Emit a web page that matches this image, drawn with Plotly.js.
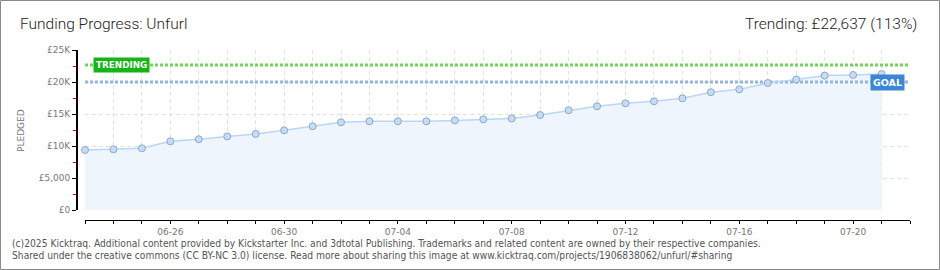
<!DOCTYPE html>
<html>
<head>
<meta charset="utf-8">
<script src="https://cdn.plot.ly/plotly-3.0.1.min.js"></script>
<style>
  html, body { margin: 0; padding: 0; background: #fff; }
  #chart { width: 940px; height: 270px; }
</style>
</head>
<body>
<div id="chart"></div>
<script>
// ---- data ----
const dates = [
  '2025-06-23','2025-06-24','2025-06-25','2025-06-26','2025-06-27','2025-06-28','2025-06-29','2025-06-30',
  '2025-07-01','2025-07-02','2025-07-03','2025-07-04','2025-07-05','2025-07-06','2025-07-07','2025-07-08',
  '2025-07-09','2025-07-10','2025-07-11','2025-07-12','2025-07-13','2025-07-14','2025-07-15','2025-07-16',
  '2025-07-17','2025-07-18','2025-07-19','2025-07-20','2025-07-21'
];
const pledged = [
  9380, 9480, 9640, 10730, 11050, 11500, 11880, 12450,
  13080, 13700, 13860, 13860, 13860, 14000, 14170, 14300,
  14840, 15580, 16200, 16670, 16980, 17450, 18400, 18850,
  19840, 20400, 21000, 21100, 21250
];
const goal = 20000;
const trending = 22637;
const xRange = ['2025-06-23', '2025-07-22'];
const yTickVals = [0, 5000, 10000, 15000, 20000, 25000];
const yTickText = ['£0', '£5,000', '£10K', '£15K', '£20K', '£25K'];
const titleText = 'Funding Progress: Unfurl';
const trendingText = 'Trending: £22,637 (113%)';
const footer1 = '(c)2025 Kicktraq. Additional content provided by Kickstarter Inc. and 3dtotal Publishing. Trademarks and related content are owned by their respective companies.';
const footer2 = 'Shared under the creative commons (CC BY-NC 3.0) license. Read more about sharing this image at www.kicktraq.com/projects/1906838062/unfurl/#sharing';

// ---- geometry (pixels) ----
const W = 940, H = 270;
const mL = 76, mR = 30, mT = 50, mB = 50;
const pw = W - mL - mR, ph = H - mT - mB;
const px = v => (v - mL) / pw;          // pixel x -> paper x
const py = v => (H - mB - v) / ph;      // pixel y -> paper y

const tickFont = { family: 'DejaVu Sans', size: 9, color: '#777' };
const titleFont = { family: 'Roboto', size: 15.5, color: '#222', weight: 300 };
const DAY = 86400000;

const traces = [
  { x: dates, y: pledged, type: 'scatter', mode: 'lines', fill: 'tozeroy',
    fillcolor: '#eef5fd', line: { width: 0, color: 'rgba(0,0,0,0)' }, hoverinfo: 'skip' },
  { x: xRange, y: [goal, goal], type: 'scatter', mode: 'lines',
    line: { color: '#93b6df', width: 3, dash: '3px,2px' }, hoverinfo: 'skip' },
  { x: xRange, y: [trending, trending], type: 'scatter', mode: 'lines',
    line: { color: '#6fd35c', width: 3, dash: '3px,2px' }, hoverinfo: 'skip' },
  { x: dates, y: pledged, type: 'scatter', mode: 'lines+markers', cliponaxis: false,
    line: { color: '#b9d7f4', width: 1.5 },
    marker: { size: 7, color: '#c4dcf6', line: { color: '#8ea8c8', width: 1 } } }
];

const layout = {
  width: W, height: H,
  margin: { l: mL, r: mR, t: mT, b: mB, pad: 0 },
  paper_bgcolor: '#fff', plot_bgcolor: '#fff',
  showlegend: false,
  title: { text: titleText, xref: 'container', yref: 'container', x: 20 / W, xanchor: 'left',
           y: 1 - 24 / H, yanchor: 'middle', font: titleFont },
  xaxis: {
    type: 'date', range: xRange, domain: [9 / pw, 1],
    anchor: 'free', position: 0,
    tick0: '2025-06-22', dtick: 4 * DAY, tickformat: '%m-%d',
    ticks: 'outside', ticklen: 3, tickcolor: '#000', tickwidth: 1,
    showline: true, linecolor: '#000', linewidth: 1,
    showgrid: true, gridcolor: '#e2e2e2', griddash: '4px,3px', gridwidth: 1,
    minor: { dtick: DAY, tick0: '2025-06-22', ticks: 'outside', ticklen: 3, tickcolor: '#000',
             showgrid: true, gridcolor: '#e2e2e2', griddash: '4px,3px' },
    tickfont: tickFont, zeroline: false, fixedrange: true
  },
  yaxis: {
    range: [0, 25000], domain: [10 / ph, 1],
    anchor: 'free', position: 0,
    tickvals: yTickVals, ticktext: yTickText,
    ticks: 'outside', ticklen: 4, tickcolor: '#000', tickwidth: 1,
    showline: true, linecolor: '#000', linewidth: 1.5,
    showgrid: true, gridcolor: '#e2e2e2', griddash: '4px,3px',
    minor: { dtick: 2500, tick0: 0, ticks: 'outside', ticklen: 3, tickcolor: '#e00000', showgrid: false },
    tickfont: tickFont, zeroline: false, fixedrange: true
  },
  annotations: [
    { text: trendingText, xref: 'paper', yref: 'paper', x: px(919), y: py(24), xanchor: 'right', yanchor: 'middle',
      showarrow: false, font: titleFont },
    { text: 'PLEDGED', xref: 'paper', yref: 'paper', x: px(21), y: py(130), xanchor: 'center', yanchor: 'middle',
      textangle: -90, showarrow: false, font: { family: 'DejaVu Sans', size: 9, color: '#777' } },
    { text: 'TRENDING', xref: 'x domain', yref: 'y', x: 8 / (pw - 9), y: trending, xanchor: 'left', yanchor: 'middle',
      showarrow: false, bgcolor: '#16b416', borderpad: 2,
      font: { family: 'DejaVu Sans', size: 8.8, color: '#fff', weight: 'bold' } },
    { text: 'GOAL', xref: 'x domain', yref: 'y', x: 1 - 5 / (pw - 9), y: goal, xanchor: 'right', yanchor: 'middle',
      showarrow: false, bgcolor: '#3b86d5', borderpad: 2,
      font: { family: 'DejaVu Sans', size: 9.5, color: '#fff', weight: 'bold' } },
    { text: footer1, xref: 'paper', yref: 'paper', x: px(10), y: py(243), xanchor: 'left', yanchor: 'middle',
      showarrow: false, font: { family: 'DejaVu Sans Condensed', size: 10.2, color: '#555' } },
    { text: footer2, xref: 'paper', yref: 'paper', x: px(10), y: py(256), xanchor: 'left', yanchor: 'middle',
      showarrow: false, font: { family: 'DejaVu Sans Condensed', size: 10.2, color: '#555' } }
  ],
  shapes: [
    { type: 'rect', xref: 'paper', yref: 'paper', x0: px(0.5), x1: px(939.5), y0: py(269.5), y1: py(0.5),
      line: { color: '#8a8a8a', width: 1 }, fillcolor: 'rgba(0,0,0,0)', layer: 'above' }
  ]
};

Plotly.newPlot('chart', traces, layout, { staticPlot: true, displayModeBar: false });
</script>
</body>
</html>
